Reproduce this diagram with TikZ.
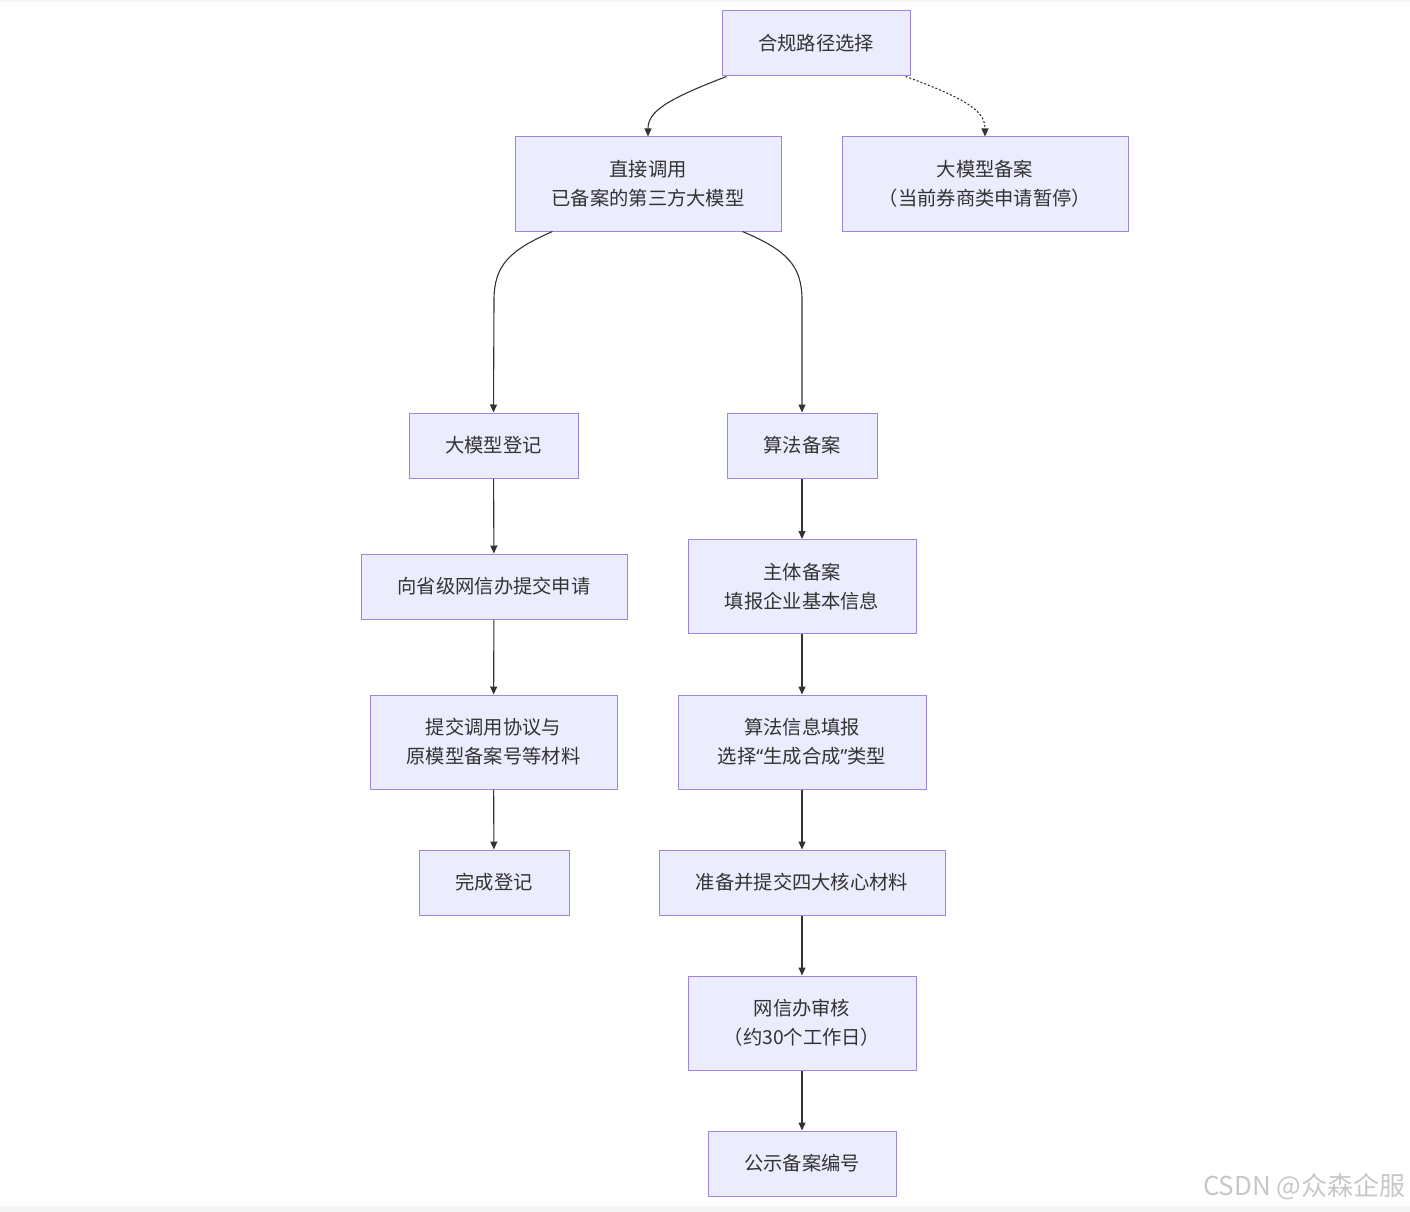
\documentclass[tikz,border=0pt]{standalone}
\usepackage{fontspec}
\setmainfont{Noto Sans CJK SC}
\newfontfamily\latinfont{Noto Sans}
\usetikzlibrary{graphs}
\usetikzlibrary{arrows.meta}
\definecolor{boxfill}{HTML}{ECECFF}
\definecolor{boxline}{HTML}{9F84E0}
\definecolor{edgeline}{HTML}{333333}

\begin{document}
\begin{tikzpicture}[x=1pt, y=-1pt,
        every node/.style={draw=boxline, fill=boxfill, line width=1pt, text=edgeline, align=center, inner sep=0pt, minimum height=65pt, font=\fontsize{19.3}{29}\selectfont},
        tall/.style={minimum height=94pt},
        link/.style={draw=edgeline, line width=1.1pt, -{Triangle[length=8pt, width=7pt]}}]
        \useasboundingbox (0,0) rectangle (1410,1212);
        \fill[black!4] (0,0) rectangle (1410,2);
        \fill[black!4] (0,1206) rectangle (1410,1212);

        \node[minimum width=188pt] (choice) at (816,43.5) {合规路径选择};
        \node[tall, minimum width=266pt] (direct) at (648,184) {直接调用\\已备案的第三方大模型};
        \node[tall, minimum width=286pt] (filing) at (985,184) {大模型备案\\（当前券商类申请暂停）};

        % left branch
        \node[minimum width=169pt] (reg) at (493.5,445.5) {大模型登记};
        \node[minimum width=266pt] (apply) at (494,586.5) {向省级网信办提交申请};
        \node[tall, minimum width=247pt] (docs) at (493.5,742) {提交调用协议与\\原模型备案号等材料};
        \node[minimum width=150pt] (done) at (494,882.5) {完成登记};

        % right branch
        \node[minimum width=150pt] (algo) at (802,445.5) {算法备案};
        \node[tall, minimum width=228pt] (entity) at (802,586.5) {主体备案\\填报企业基本信息};
        \node[tall, minimum width=248pt] (info) at (802,742) {算法信息填报\\选择{\latinfont “}生成合成{\latinfont ”}类型};
        \node[minimum width=286pt] (material) at (802,882.5) {准备并提交四大核心材料};
        \node[tall, minimum width=228pt] (review) at (802,1023) {网信办审核\\（约30个工作日）};
        \node[minimum width=188pt] (publish) at (802,1163.5) {公示备案编号};

        \node[draw=none, fill=none, minimum height=0pt, anchor=east, text=black!22, font=\fontsize{26}{26}\selectfont] (mark) at (1406,1187) {CSDN @众森企服};

        \draw[link] ([xshift=5pt]choice.south west) .. controls (665,100) and (648,112) .. (direct.north);
        \draw[link, dash pattern=on 2pt off 2pt] ([xshift=-5pt]choice.south east) .. controls (970,100) and (985,112) .. (filing.north);
        \draw[link] ([xshift=38pt]direct.south west) .. controls (510,250) and (494,265) .. (494,300) -- (reg.north);
        \draw[link] ([xshift=-39pt]direct.south east) .. controls (786,250) and (802,265) .. (802,300) -- (algo.north);

        \graph { [edges={link}]
            (reg) -> (apply) -> (docs) -> (done),
            (algo) -> (entity) -> (info) -> (material) -> (review) -> (publish),
        };
    \end{tikzpicture}
\end{document}
